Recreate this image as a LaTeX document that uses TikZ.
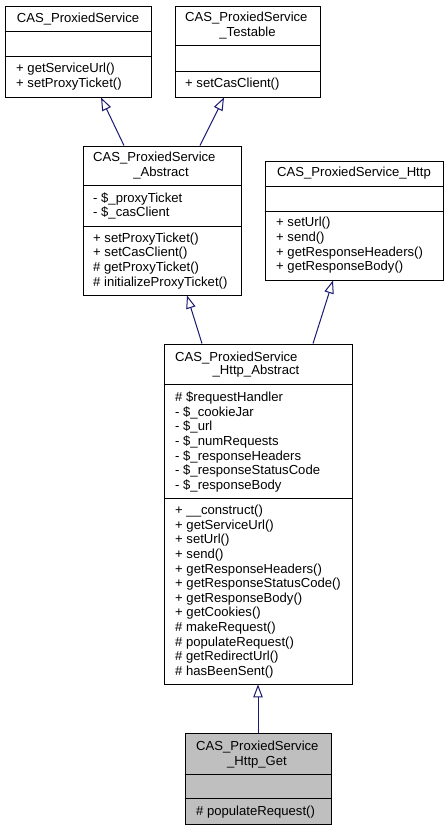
\documentclass[tikz,border=0pt]{standalone}
\usepackage{fontspec}
\setmainfont{Liberation Sans}
\usetikzlibrary{arrows.meta}
\definecolor{edgeblue}{HTML}{191970}
\definecolor{boxgray}{HTML}{BFBFBF}
\tikzset{
  classbox/.style={draw=black, line width=0.9bp, fill=white, inner sep=0pt},
  member/.style={anchor=north west, align=left, inner sep=0pt,
    font=\fontsize{13.1bp}{14.6bp}\selectfont},
  title/.style={member, anchor=north, align=center},
  inherit/.style={draw=edgeblue, line width=1bp,
    -{Triangle[open, length=13bp, width=9.5bp, fill=white]}}
}
\begin{document}
\begin{tikzpicture}[x=1bp, y=-1bp]
  \useasboundingbox (0,0) rectangle (448,831);

  % Draw the class boxes
  \node[classbox, minimum width=146bp, minimum height=91bp] (proxied) at (78,51.5) {};
  \node[classbox, minimum width=145bp, minimum height=91bp] (testable) at (247.5,51.5) {};
  \node[classbox, minimum width=158bp, minimum height=149bp] (abstract) at (162,220.5) {};
  \node[classbox, minimum width=178bp, minimum height=119bp] (http) at (354,220.5) {};
  \node[classbox, minimum width=188bp, minimum height=340bp] (httpabs) at (258,514) {};
  \node[classbox, fill=boxgray, minimum width=146bp, minimum height=91bp] (httpget) at (258,778.5) {};

  % Compartment lines
  \draw[line width=0.9bp] (proxied.west |- 0,31.3) -- (proxied.east |- 0,31.3);
  \draw[line width=0.9bp] (proxied.west |- 0,56.7) -- (proxied.east |- 0,56.7);
  \draw[line width=0.9bp] (testable.west |- 0,45.7) -- (testable.east |- 0,45.7);
  \draw[line width=0.9bp] (testable.west |- 0,71) -- (testable.east |- 0,71);
  \draw[line width=0.9bp] (abstract.west |- 0,185.7) -- (abstract.east |- 0,185.7);
  \draw[line width=0.9bp] (abstract.west |- 0,226) -- (abstract.east |- 0,226);
  \draw[line width=0.9bp] (http.west |- 0,186.7) -- (http.east |- 0,186.7);
  \draw[line width=0.9bp] (http.west |- 0,211) -- (http.east |- 0,211);
  \draw[line width=0.9bp] (httpabs.west |- 0,384) -- (httpabs.east |- 0,384);
  \draw[line width=0.9bp] (httpabs.west |- 0,498.3) -- (httpabs.east |- 0,498.3);
  \draw[line width=0.9bp] (httpget.west |- 0,774.3) -- (httpget.east |- 0,774.3);
  \draw[line width=0.9bp] (httpget.west |- 0,798.3) -- (httpget.east |- 0,798.3);

  % Class names
  \node[title] (proxied-name) at (78,12.5) {CAS\_ProxiedService};
  \node[member] (testable-name) at (185,12.3) {CAS\_ProxiedService};
  \node[title] (testable-name2) at (247.5,27.3) {\_Testable};
  \node[member] (abstract-name) at (93,152) {CAS\_ProxiedService};
  \node[title] (abstract-name2) at (161,167) {\_Abstract};
  \node[title] (http-name) at (354,167.3) {CAS\_ProxiedService\_Http};
  \node[member] (httpabs-name) at (175,351.7) {CAS\_ProxiedService};
  \node[title] (httpabs-name2) at (256,365) {\_Http\_Abstract};
  \node[member] (httpget-name) at (196,740.7) {CAS\_ProxiedService};
  \node[title] (httpget-name2) at (257,756) {\_Http\_Get};

  % Attributes and operations
  \node[member] (proxied-ops) at (16,63.3) {+ getServiceUrl()\\+ setProxyTicket()};
  \node[member] (testable-ops) at (185,77.7) {+ setCasClient()};
  \node[member] (abstract-attr) at (93,192.3) {- \$\_proxyTicket\\- \$\_casClient};
  \node[member] (abstract-ops) at (93,232.7) {+ setProxyTicket()\\+ setCasClient()\\\# getProxyTicket()\\\# initializeProxyTicket()};
  \node[member] (http-ops) at (276,217.3) {+ setUrl()\\+ send()\\+ getResponseHeaders()\\+ getResponseBody()};
  \node[member] (httpabs-attr) at (175,391.7) {\# \$requestHandler\\- \$\_cookieJar\\- \$\_url\\- \$\_numRequests\\- \$\_responseHeaders\\- \$\_responseStatusCode\\- \$\_responseBody};
  \node[member] (httpabs-ops) at (175,505) {+ \_\_construct()\\+ getServiceUrl()\\+ setUrl()\\+ send()\\+ getResponseHeaders()\\+ getResponseStatusCode()\\+ getResponseBody()\\+ getCookies()\\\# makeRequest()\\\# populateRequest()\\\# getRedirectUrl()\\\# hasBeenSent()};
  \node[member] (httpget-ops) at (196,806) {\# populateRequest()};

  % Inheritance arrows
  \draw[inherit] ([xshift=-38bp]abstract.north) -- ([xshift=23bp]proxied.south);
  \draw[inherit] ([xshift=38bp]abstract.north) -- ([xshift=-23.5bp]testable.south);
  \draw[inherit] ([xshift=-56bp]httpabs.north) -- ([xshift=25bp]abstract.south);
  \draw[inherit] ([xshift=55bp]httpabs.north) -- ([xshift=-21bp]http.south);
  \draw[inherit] (httpget.north) -- (httpabs.south);

\end{tikzpicture}
\end{document}
